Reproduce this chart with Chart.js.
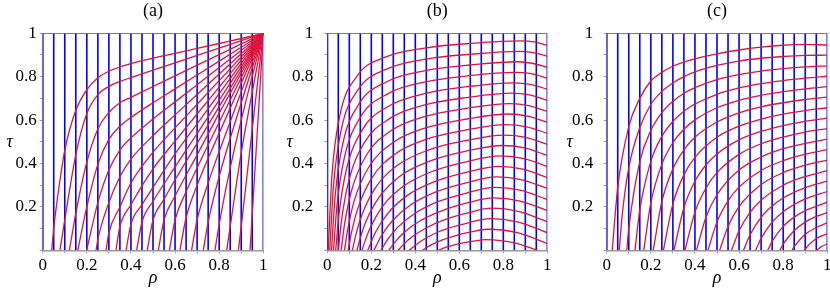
<!DOCTYPE html>
<html>
<head>
<meta charset="utf-8">
<script src="https://cdn.jsdelivr.net/npm/chart.js@4.4.1/dist/chart.umd.min.js"></script>
<style>
  html, body { margin: 0; padding: 0; background: #fff; overflow: hidden; }
  body { width: 830px; height: 294px; position: relative; }
  canvas { position: absolute; top: 0; }
  .warm { position: absolute; left: -1000px; top: 0; font-family: "Liberation Serif"; font-size: 17px; }
</style>
</head>
<body>
<span class="warm">0.2 (a) <i>ρ τ</i></span>
<canvas id="pa" width="280" height="294" style="left:0px"></canvas>
<canvas id="pb" width="280" height="294" style="left:280px"></canvas>
<canvas id="pc" width="280" height="294" style="left:560px"></canvas>
<script>
// vertical (blue) lines, rho = const
const blueRho = [0, 0.05, 0.1, 0.15, 0.2, 0.25, 0.3, 0.35, 0.4, 0.45, 0.5,
                 0.55, 0.6, 0.65, 0.7, 0.75, 0.8, 0.85, 0.9, 0.95, 1];

// tick labels at 0, 0.1, ..., 1 (empty = minor tick)
const xLabels = ['0', '', '0.2', '', '0.4', '', '0.6', '', '0.8', '', '1'];
const yLabels = ['', '', '0.2', '', '0.4', '', '0.6', '', '0.8', '', '1'];

// top red line tau = 1
const topLine = [[0, 1], [1, 1]];

// red curves, [rho, tau]
const redA = [
  [[0.041,0],[0.05,0.1],[0.075,0.3],[0.1,0.46],[0.15,0.645],[0.2,0.74],[0.25,0.795],[0.3,0.825],[0.4,0.86],[0.5,0.885],[0.6,0.907],[0.7,0.93],[0.8,0.953],[0.9,0.976],[1,1]],
  [[0.078,0],[0.1,0.14],[0.15,0.44],[0.2,0.63],[0.25,0.717],[0.3,0.755],[0.35,0.778],[0.4,0.796],[0.5,0.83],[0.6,0.864],[0.7,0.898],[0.8,0.932],[0.9,0.966],[1,1]],
  [[0.121,0],[0.15,0.17],[0.2,0.406],[0.25,0.559],[0.3,0.635],[0.35,0.68],[0.4,0.705],[0.5,0.755],[0.6,0.804],[0.7,0.853],[0.8,0.902],[0.9,0.951],[1,1]],
  [[0.159,0],[0.2,0.2],[0.25,0.396],[0.3,0.511],[0.35,0.572],[0.4,0.612],[0.5,0.68],[0.6,0.744],[0.7,0.808],[0.8,0.872],[0.9,0.936],[1,1]],
  [[0.199,0],[0.25,0.22],[0.3,0.37],[0.35,0.462],[0.4,0.518],[0.5,0.605],[0.6,0.684],[0.7,0.763],[0.8,0.842],[0.9,0.921],[1,1]],
  [[0.242,0],[0.25,0.05],[0.3,0.22],[0.35,0.339],[0.4,0.42],[0.5,0.528],[0.6,0.624],[0.7,0.718],[0.8,0.812],[0.9,0.906],[1,1]],
  [[0.287,0],[0.3,0.08],[0.35,0.2],[0.4,0.31],[0.5,0.452],[0.6,0.564],[0.7,0.673],[0.8,0.782],[0.9,0.891],[1,1]],
  [[0.332,0],[0.35,0.11],[0.4,0.21],[0.5,0.375],[0.6,0.503],[0.7,0.628],[0.8,0.752],[0.9,0.876],[1,1]],
  [[0.378,0],[0.4,0.12],[0.45,0.21],[0.5,0.29],[0.6,0.444],[0.7,0.583],[0.8,0.722],[0.9,0.861],[1,1]],
  [[0.426,0],[0.45,0.13],[0.5,0.225],[0.6,0.384],[0.7,0.538],[0.8,0.692],[0.9,0.846],[1,1]],
  [[0.474,0],[0.5,0.14],[0.55,0.235],[0.6,0.325],[0.7,0.493],[0.8,0.662],[0.9,0.831],[1,1]],
  [[0.524,0],[0.55,0.14],[0.6,0.25],[0.7,0.44],[0.8,0.632],[0.9,0.816],[1,1]],
  [[0.574,0],[0.6,0.14],[0.65,0.27],[0.7,0.38],[0.8,0.59],[0.9,0.795],[1,1]],
  [[0.622,0],[0.65,0.15],[0.7,0.3],[0.8,0.54],[0.9,0.77],[1,1]],
  [[0.675,0],[0.7,0.14],[0.75,0.31],[0.8,0.455],[0.9,0.73],[1,1]],
  [[0.728,0],[0.75,0.13],[0.8,0.34],[0.9,0.68],[1,1]],
  [[0.781,0],[0.8,0.12],[0.85,0.38],[0.9,0.6],[1,1]],
  [[0.834,0],[0.85,0.11],[0.9,0.45],[0.95,0.73],[1,1]],
  [[0.887,0],[0.9,0.11],[0.95,0.56],[1,1]],
  [[0.94,0],[0.97,0.5],[1,1]]
];

const redB = [
  [[0.004,0],[0.0215,0.351],[0.0566,0.619],[0.1354,0.803],[0.2668,0.891],[0.442,0.932],[0.661,0.954],[0.88,0.965],[0.94,0.96],[1,0.945]],
  [[0.011,0],[0.0282,0.299],[0.0626,0.552],[0.1401,0.74],[0.2692,0.835],[0.4413,0.88],[0.6565,0.904],[0.8716,0.917],[0.9358,0.911],[1,0.894]],
  [[0.019,0],[0.0359,0.253],[0.0697,0.488],[0.1456,0.677],[0.2723,0.778],[0.4411,0.827],[0.6522,0.854],[0.8632,0.869],[0.9316,0.862],[1,0.843]],
  [[0.028,0],[0.0445,0.212],[0.0776,0.427],[0.152,0.616],[0.276,0.722],[0.4414,0.775],[0.648,0.805],[0.8547,0.82],[0.9274,0.814],[1,0.793]],
  [[0.038,0],[0.0542,0.176],[0.0865,0.371],[0.1592,0.555],[0.2805,0.665],[0.4422,0.722],[0.6442,0.755],[0.8463,0.772],[0.9232,0.765],[1,0.742]],
  [[0.05,0],[0.0658,0.146],[0.0973,0.319],[0.1682,0.496],[0.2864,0.609],[0.444,0.67],[0.6409,0.705],[0.8379,0.724],[0.919,0.716],[1,0.691]],
  [[0.063,0],[0.0783,0.119],[0.109,0.271],[0.178,0.439],[0.293,0.553],[0.4463,0.617],[0.6379,0.655],[0.8295,0.676],[0.9148,0.667],[1,0.64]],
  [[0.078,0],[0.0929,0.097],[0.1226,0.229],[0.1895,0.385],[0.3009,0.498],[0.4496,0.565],[0.6353,0.605],[0.8211,0.628],[0.9106,0.618],[1,0.589]],
  [[0.095,0],[0.1094,0.079],[0.138,0.191],[0.2026,0.334],[0.3103,0.445],[0.4538,0.513],[0.6332,0.555],[0.8126,0.579],[0.9063,0.569],[1,0.539]],
  [[0.114,0],[0.1278,0.063],[0.1554,0.158],[0.2175,0.287],[0.3211,0.393],[0.4591,0.462],[0.6317,0.506],[0.8042,0.531],[0.9021,0.52],[1,0.488]],
  [[0.135,0],[0.1482,0.051],[0.1746,0.13],[0.2341,0.243],[0.3332,0.344],[0.4654,0.411],[0.6306,0.457],[0.7958,0.483],[0.8979,0.472],[1,0.437]],
  [[0.158,0],[0.1706,0.04],[0.1958,0.105],[0.2524,0.204],[0.3468,0.296],[0.4727,0.362],[0.6301,0.408],[0.7874,0.435],[0.8937,0.423],[1,0.386]],
  [[0.184,0],[0.2197,0.084],[0.2733,0.168],[0.3625,0.252],[0.4815,0.314],[0.6303,0.359],[0.779,0.387],[0.8895,0.374],[1,0.335]],
  [[0.212,0],[0.2455,0.066],[0.2958,0.136],[0.3796,0.21],[0.4913,0.268],[0.6309,0.311],[0.7705,0.338],[0.8853,0.325],[1,0.285]],
  [[0.244,0],[0.2751,0.051],[0.3217,0.108],[0.3994,0.171],[0.5031,0.224],[0.6326,0.264],[0.7621,0.29],[0.8811,0.276],[1,0.234]],
  [[0.28,0],[0.3084,0.039],[0.3511,0.084],[0.4221,0.136],[0.5169,0.181],[0.6353,0.218],[0.7537,0.242],[0.8769,0.227],[1,0.183]],
  [[0.322,0],[0.3474,0.028],[0.3855,0.062],[0.449,0.103],[0.5337,0.141],[0.6395,0.172],[0.7453,0.194],[0.8727,0.178],[1,0.132]],
  [[0.372,0],[0.4267,0.043],[0.4814,0.074],[0.5544,0.103],[0.6456,0.128],[0.7368,0.146],[0.8684,0.13],[1,0.081]],
  [[0.432,0],[0.4765,0.027],[0.5209,0.047],[0.5802,0.067],[0.6543,0.085],[0.7284,0.097],[0.8642,0.081],[1,0.031]],
  [[0.505,0],[0.5373,0.013],[0.5695,0.023],[0.6125,0.033],[0.6663,0.042],[0.72,0.049],[0.86,0.032],[0.956,0]]
];

const redC = [
  [[0.025,0],[0.05,0.29],[0.1,0.57],[0.15,0.7],[0.2,0.78],[0.25,0.82],[0.3,0.848],[0.35,0.867],[0.4,0.882],[0.5,0.905],[0.6,0.923],[0.7,0.936],[0.8,0.945],[0.9,0.949],[1,0.946]],
  [[0.057,0],[0.07,0.16],[0.1,0.38],[0.15,0.565],[0.2,0.672],[0.25,0.732],[0.3,0.771],[0.35,0.8],[0.4,0.822],[0.5,0.852],[0.6,0.872],[0.7,0.885],[0.8,0.893],[0.9,0.898],[1,0.899]],
  [[0.091,0],[0.1,0.1],[0.15,0.409],[0.2,0.552],[0.25,0.634],[0.3,0.686],[0.35,0.724],[0.4,0.75],[0.5,0.787],[0.6,0.81],[0.7,0.826],[0.8,0.837],[0.9,0.845],[1,0.85]],
  [[0.128,0],[0.15,0.186],[0.2,0.41],[0.25,0.525],[0.3,0.594],[0.35,0.641],[0.4,0.674],[0.5,0.719],[0.6,0.748],[0.7,0.768],[0.8,0.782],[0.9,0.793],[1,0.802]],
  [[0.168,0],[0.2,0.218],[0.25,0.397],[0.3,0.496],[0.35,0.558],[0.4,0.601],[0.5,0.657],[0.6,0.691],[0.7,0.714],[0.8,0.731],[0.9,0.744],[1,0.754]],
  [[0.211,0],[0.25,0.224],[0.3,0.375],[0.35,0.463],[0.4,0.521],[0.5,0.591],[0.6,0.633],[0.7,0.661],[0.8,0.68],[0.9,0.695],[1,0.706]],
  [[0.257,0],[0.3,0.214],[0.35,0.348],[0.4,0.428],[0.5,0.521],[0.6,0.572],[0.7,0.605],[0.8,0.628],[0.9,0.644],[1,0.657]],
  [[0.305,0],[0.35,0.196],[0.4,0.318],[0.45,0.393],[0.5,0.444],[0.6,0.509],[0.7,0.548],[0.8,0.575],[0.9,0.594],[1,0.609]],
  [[0.355,0],[0.4,0.176],[0.45,0.287],[0.5,0.358],[0.6,0.442],[0.7,0.491],[0.8,0.522],[0.9,0.545],[1,0.561]],
  [[0.407,0],[0.45,0.152],[0.5,0.256],[0.6,0.37],[0.7,0.43],[0.8,0.468],[0.9,0.493],[1,0.512]],
  [[0.459,0],[0.5,0.131],[0.55,0.228],[0.6,0.291],[0.7,0.368],[0.8,0.413],[0.9,0.443],[1,0.464]],
  [[0.512,0],[0.55,0.11],[0.6,0.201],[0.7,0.303],[0.8,0.358],[0.9,0.392],[1,0.416]],
  [[0.566,0],[0.6,0.09],[0.65,0.175],[0.7,0.231],[0.8,0.3],[0.9,0.34],[1,0.367]],
  [[0.62,0],[0.65,0.072],[0.7,0.152],[0.75,0.204],[0.8,0.241],[0.9,0.289],[1,0.319]],
  [[0.675,0],[0.7,0.055],[0.75,0.13],[0.8,0.178],[0.9,0.237],[1,0.271]],
  [[0.73,0],[0.75,0.041],[0.8,0.11],[0.85,0.153],[0.9,0.183],[1,0.222]],
  [[0.785,0],[0.8,0.028],[0.85,0.091],[0.9,0.13],[0.95,0.156],[1,0.174]],
  [[0.84,0],[0.85,0.017],[0.9,0.074],[0.95,0.105],[1,0.126]],
  [[0.896,0],[0.9,0.006],[0.95,0.054],[1,0.077]],
  [[0.952,0],[0.975,0.018],[1,0.029]]
];

const RED = '#dc143c';
const BLUE = '#0000ff';
const AXIS = '#9a9a9a';
const SERIF = "'Liberation Serif', 'Times New Roman', serif";

Chart.defaults.font.family = SERIF;

// upright tau label (Chart.js only draws rotated y titles)
const tauLabel = {
  id: 'tauLabel',
  afterDraw(chart, args, opts) {
    const { ctx, chartArea } = chart;
    ctx.save();
    ctx.font = 'italic 18px ' + SERIF;
    ctx.fillStyle = '#000';
    ctx.textAlign = 'center';
    ctx.textBaseline = 'middle';
    ctx.fillText(opts.text, opts.x, (chartArea.top + chartArea.bottom) / 2);
    ctx.restore();
  }
};

function toXY(pts) {
  return pts.map(p => ({ x: p[0], y: p[1] }));
}

function makePanel(id, title, curves, yWidth, yPad, rightPad) {
  const datasets = [];
  // red first so it is drawn on top of the blue lines
  datasets.push({ data: toXY(topLine), borderColor: RED, borderWidth: 1.3, tension: 0 });
  curves.forEach(c => {
    datasets.push({ data: toXY(c), borderColor: RED, borderWidth: 1.3, cubicInterpolationMode: 'monotone' });
  });
  blueRho.forEach(r => {
    datasets.push({ data: [{ x: r, y: 0 }, { x: r, y: 1 }], borderColor: BLUE, borderWidth: 1.6, tension: 0 });
  });

  return new Chart(document.getElementById(id), {
    type: 'line',
    data: { datasets },
    plugins: [tauLabel],
    options: {
      responsive: false,
      animation: false,
      events: [],
      elements: { point: { radius: 0 }, line: { fill: false } },
      layout: { padding: { left: 0, right: rightPad, top: 0, bottom: 0 } },
      plugins: {
        legend: { display: false },
        tooltip: { enabled: false },
        title: {
          display: true, text: title, fullSize: false, color: '#000',
          font: { family: SERIF, size: 18, weight: 'normal', lineHeight: 1.2 },
          padding: { top: 0, bottom: 11.7 }
        },
        tauLabel: { text: 'τ', x: 9.7 }
      },
      scales: {
        x: {
          type: 'linear', min: 0, max: 1,
          afterFit: s => { s.height = 43.7; },
          ticks: {
            stepSize: 0.1, autoSkip: false, maxRotation: 0, padding: 2.5,
            color: '#000', font: { family: SERIF, size: 17 },
            callback: v => xLabels[Math.round(v * 10)]
          },
          grid: { drawOnChartArea: false, tickLength: 3, color: AXIS },
          border: { color: AXIS, width: 1.5 },
          title: {
            display: true, text: 'ρ', color: '#000',
            font: { family: SERIF, size: 18, style: 'italic', lineHeight: 1.2 },
            padding: { top: 0, bottom: 5 }
          }
        },
        y: {
          type: 'linear', min: 0, max: 1,
          afterFit: s => { s.width = yWidth; },
          ticks: {
            stepSize: 0.1, autoSkip: false, padding: yPad,
            color: '#000', font: { family: SERIF, size: 17 },
            callback: v => yLabels[Math.round(v * 10)]
          },
          grid: { drawOnChartArea: false, tickLength: 3, color: AXIS },
          border: { color: AXIS, width: 1.5 }
        }
      }
    }
  });
}

const charts = [
  makePanel('pa', '(a)', redA, 42.7, 3, 16.7),
  makePanel('pb', '(b)', redB, 47.3, 11, 12.7),
  makePanel('pc', '(c)', redC, 46.7, 10.4, 12.7)
];

// redraw once the serif face is surely available to the canvas
Promise.all([
  document.fonts.load("17px 'Liberation Serif'"),
  document.fonts.load("italic 18px 'Liberation Serif'")
]).then(() => charts.forEach(c => c.update())).catch(() => {});
</script>
</body>
</html>
